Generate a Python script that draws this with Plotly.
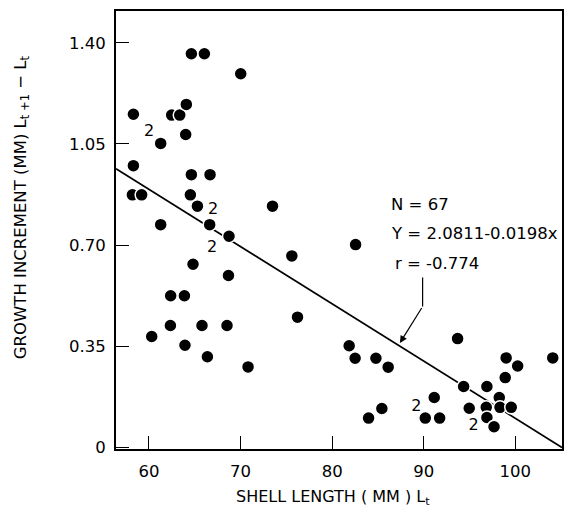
import plotly.graph_objects as go

# Observations (single points)
shell_length = [64.63, 66.05, 70.02, 58.3, 62.48, 63.36, 64.08, 61.28, 64.01, 58.3,
                64.63, 66.67, 58.19, 59.2, 64.52, 65.29, 73.49, 61.28, 66.63, 68.74,
                64.81, 68.68, 62.37, 63.87, 62.34, 65.79, 68.52, 60.3, 63.93, 66.38,
                70.82, 82.56, 75.6, 76.22, 93.7, 81.86, 82.51, 84.78, 86.12, 99.0,
                100.26, 104.09, 98.9, 94.36, 96.9, 98.25, 91.15, 85.43, 83.98, 90.17,
                91.74, 94.97, 96.83, 98.33, 99.56, 96.9, 97.68]
growth_increment = [1.362, 1.362, 1.293, 1.153, 1.150, 1.150, 1.187, 1.052, 1.083, 0.975,
                    0.944, 0.944, 0.874, 0.874, 0.874, 0.835, 0.835, 0.771, 0.771, 0.731,
                    0.634, 0.595, 0.525, 0.525, 0.422, 0.422, 0.422, 0.384, 0.354, 0.314,
                    0.279, 0.702, 0.663, 0.451, 0.377, 0.352, 0.309, 0.309, 0.278, 0.310,
                    0.282, 0.310, 0.242, 0.211, 0.211, 0.173, 0.173, 0.135, 0.102, 0.102,
                    0.102, 0.136, 0.139, 0.139, 0.139, 0.104, 0.072]

# Locations with two coincident observations (plotted as "2")
double_length = [60.0, 67.0, 66.9, 89.2, 95.45]
double_increment = [1.092, 0.821, 0.691, 0.139, 0.076]
double_label = ["2", "2", "2", "2", "2"]

# Regression: Y = 2.0811 - 0.0198x
intercept = 2.0811
slope = -0.0198
x_range = [56.4, 105.1]

x_ticks = [60, 70, 80, 90, 100]
y_ticks = [0, 0.35, 0.70, 1.05, 1.40]
y_tick_labels = ["0", "0.35", "0.70", "1.05", "1.40"]

FONT = "DejaVu Sans"

fig = go.Figure()

fig.add_trace(go.Scatter(
    x=x_range, y=[intercept + slope * v for v in x_range],
    mode="lines", line=dict(color="black", width=1.8),
    hoverinfo="skip", showlegend=False))

fig.add_trace(go.Scatter(
    x=shell_length, y=growth_increment, mode="markers",
    marker=dict(color="black", size=13, line=dict(color="white", width=1.5)),
    showlegend=False))

fig.add_trace(go.Scatter(
    x=double_length, y=double_increment, mode="text", text=double_label,
    textfont=dict(family=FONT, size=16, color="black"),
    showlegend=False))

# annotation text
for txt, xx, yy in [("N = 67", 86.2, 0.842),
                    ("Y = 2.0811-0.0198x", 86.2, 0.739),
                    ("r = -0.774", 86.63, 0.636)]:
    fig.add_annotation(x=xx, y=yy, xref="x", yref="y", text=txt, showarrow=False,
                       xanchor="left", yanchor="middle",
                       font=dict(family=FONT, size=16.5, color="black"))

# arrow pointing to regression line
fig.add_shape(type="line", xref="x", yref="y", x0=89.88, y0=0.588, x1=89.88, y1=0.488,
              line=dict(color="black", width=1.2))
fig.add_annotation(x=87.4, y=0.362, ax=89.88, ay=0.488, axref="x", ayref="y",
                   xref="x", yref="y", text="", showarrow=True,
                   arrowhead=2, arrowsize=1.2, arrowwidth=1.2, arrowcolor="black")

# axis titles
fig.add_annotation(xref="paper", yref="paper", x=-0.213, y=0.552, textangle=-90,
                   text="GROWTH INCREMENT (MM) L<sub>t +1</sub> \u2212 L<sub>t</sub>",
                   showarrow=False, xanchor="center", yanchor="middle",
                   font=dict(family=FONT, size=16.5, color="black"))
fig.add_annotation(xref="paper", yref="paper", x=0.487, y=-0.11,
                   text="SHELL LENGTH ( MM ) L<sub>t</sub>",
                   showarrow=False, xanchor="center", yanchor="middle",
                   font=dict(family=FONT, size=16, color="black"))

fig.update_xaxes(range=x_range, tickvals=x_ticks, ticks="inside", ticklen=13,
                 tickwidth=1.2, tickcolor="black", showline=True, linecolor="black",
                 linewidth=2, mirror=True, showgrid=False, zeroline=False,
                 tickfont=dict(family=FONT, size=16.5, color="black"),
                 ticklabelstandoff=6)
fig.update_yaxes(range=[-0.005, 1.51], tickvals=y_ticks, ticktext=y_tick_labels,
                 ticks="inside", ticklen=13, tickwidth=1.2, tickcolor="black",
                 showline=True, linecolor="black", linewidth=2, mirror=True,
                 showgrid=False, zeroline=False,
                 tickfont=dict(family=FONT, size=16.5, color="black"),
                 ticklabelstandoff=5)

# page body has an 8px margin, so the figure is 8px smaller than the window
fig.update_layout(width=565, height=500, plot_bgcolor="white", paper_bgcolor="white",
                  margin=dict(l=108, r=11, t=1, b=59), showlegend=False)

fig.write_html("out.html")
